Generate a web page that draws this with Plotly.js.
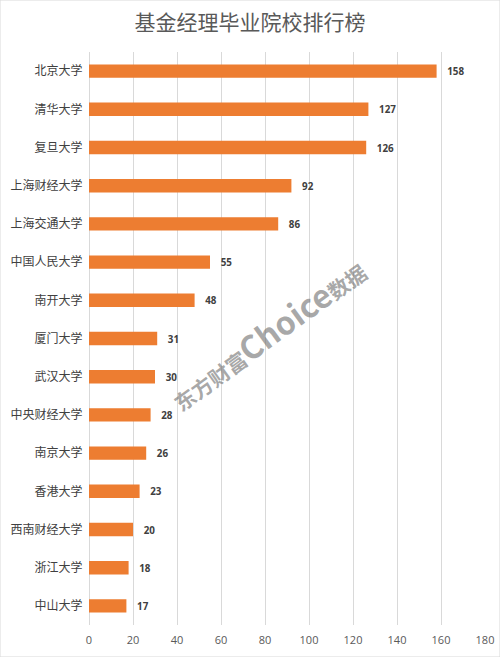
<!DOCTYPE html>
<html>
<head>
<meta charset="utf-8">
<script src="https://cdn.plot.ly/plotly-3.0.1.min.js"></script>
<style>
  html, body { margin: 0; padding: 0; background: #fff; }
  #graphDiv { width: 500px; height: 657px; }
</style>
</head>
<body>
<div id="graphDiv"></div>
<script>
// School names, top to bottom
const schools = ['北京大学', '清华大学', '复旦大学', '上海财经大学', '上海交通大学', '中国人民大学',
	'南开大学', '厦门大学', '武汉大学', '中央财经大学', '南京大学', '香港大学',
	'西南财经大学', '浙江大学', '中山大学'];
// Number of fund managers
const managers = [158, 127, 126, 92, 86, 55, 48, 31, 30, 28, 26, 23, 20, 18, 17];
const xTicks = [0, 20, 40, 60, 80, 100, 120, 140, 160, 180];

const font = '"Microsoft YaHei", "Noto Sans CJK SC", sans-serif';

const bars = {
	type: 'bar',
	orientation: 'h',
	y: schools,
	x: managers,
	marker: { color: '#ed7d31' },
	text: managers.map(String),
	texttemplate: '   %{text}',
	textposition: 'outside',
	cliponaxis: false,
	textfont: { family: '"Open Sans", "DejaVu Sans", sans-serif', size: 11, color: '#404040', weight: 'bold' },
	hoverinfo: 'x+y',
};

const layout = {
	width: 500,
	height: 657,
	paper_bgcolor: '#fff',
	plot_bgcolor: '#fff',
	title: {
		text: '基金经理毕业院校排行榜',
		font: { family: font, size: 21, color: '#595959' },
		x: 0.5,
		xanchor: 'center',
		y: 0.966,
		yanchor: 'middle',
	},
	margin: { l: 89, r: 15, t: 52, b: 32 },
	bargap: 0.65,
	showlegend: false,
	xaxis: {
		range: [0, 180],
		tickvals: xTicks,
		showgrid: true,
		gridcolor: '#d9d9d9',
		gridwidth: 1,
		zeroline: true,
		zerolinecolor: '#d9d9d9',
		showline: false,
		ticks: '',
		ticklabelstandoff: 7,
		tickfont: { family: '"Open Sans", sans-serif', size: 11, color: '#595959' },
		fixedrange: true,
	},
	yaxis: {
		autorange: 'reversed',
		showgrid: false,
		zeroline: false,
		ticks: '',
		ticksuffix: '  ',
		tickfont: { family: font, size: 12, color: '#404040' },
		fixedrange: true,
	},
	shapes: [{
		type: 'rect', xref: 'paper', yref: 'paper',
		x0: -89 / 396, x1: 411 / 396, y0: -32 / 573, y1: 625 / 573,
		line: { color: '#d9d9d9', width: 1 },
	}],
	annotations: [{
		text: '<b><span style="font-size:21px">东方财富</span>Choice<span style="font-size:21px">数据</span></b>',
		xref: 'paper', yref: 'paper',
		x: 0.45, y: 0.51,
		showarrow: false,
		textangle: -36,
		font: { family: font, size: 32, color: 'rgba(110,110,110,0.6)' },
	}],
};

Plotly.newPlot('graphDiv', [bars], layout, { displayModeBar: false, staticPlot: true });
</script>
</body>
</html>
